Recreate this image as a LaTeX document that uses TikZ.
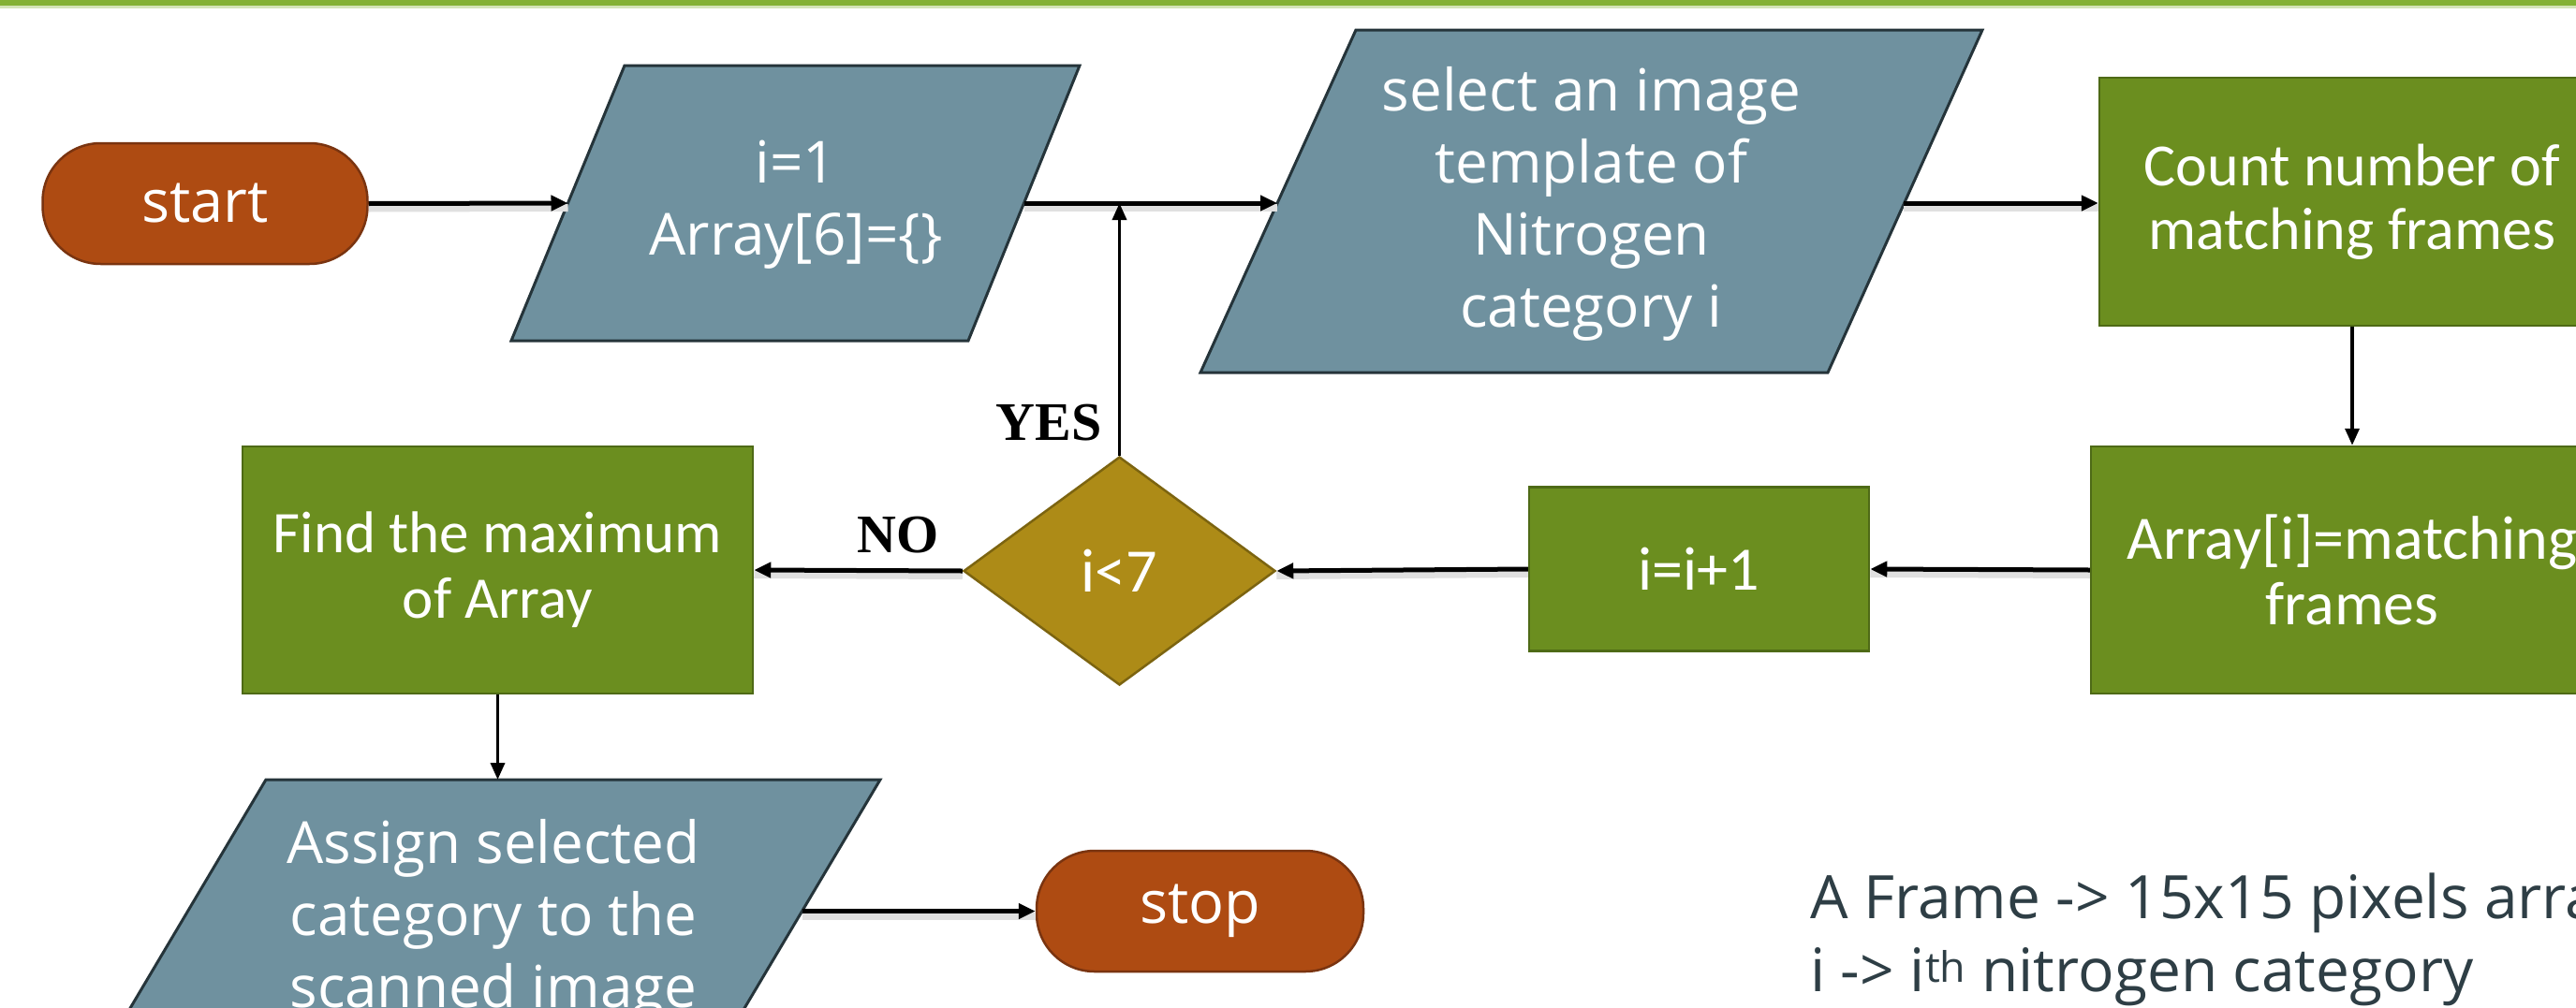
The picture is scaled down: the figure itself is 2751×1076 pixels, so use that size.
\documentclass[tikz,border=0pt]{standalone}
\usepackage{fontspec}
\setmainfont{Carlito}
\newfontfamily\opensans{Open Sans}
\newfontfamily\timesf{Liberation Serif}
\usetikzlibrary{arrows.meta,shapes.geometric}
\definecolor{termfill}{HTML}{AE4B12}
\definecolor{termdraw}{HTML}{7A3410}
\definecolor{parafill}{HTML}{6F919F}
\definecolor{paradraw}{HTML}{25343A}
\definecolor{procfill}{HTML}{6B8E1F}
\definecolor{procdraw}{HTML}{4E6A16}
\definecolor{decfill}{HTML}{AD8B17}
\definecolor{decdraw}{HTML}{7C6410}
\definecolor{topbar}{HTML}{84B135}
\definecolor{notetext}{HTML}{2E3E45}
\begin{document}
\begin{tikzpicture}[x=1pt,y=-1pt,
  term/.style={draw=termdraw, fill=termfill, line width=2.5pt, rounded corners=62pt, inner sep=0pt, text=white, font=\opensans\fontsize{63pt}{76pt}\selectfont},
  proc/.style={draw=procdraw, fill=procfill, line width=2.5pt, inner sep=0pt, text=white, align=center},
  decbox/.style={diamond, draw=decdraw, fill=decfill, line width=2.5pt, inner sep=0pt, text=white, font=\fontsize{66pt}{78pt}\selectfont},
  para/.style={draw=paradraw, fill=parafill, line width=3pt, line join=miter},
  paratext/.style={text=white, align=center, font=\opensans\fontsize{62pt}{77pt}\selectfont, inner sep=0pt},
  arr/.style={line width=5pt, -{Triangle[length=18pt,width=16pt]}},
  varr/.style={line width=3.5pt, -{Triangle[length=18pt,width=15pt]}},
  shadowline/.style={line width=8pt, black!12, transform canvas={yshift=-5pt}},
  lbl/.style={font=\timesf\bfseries\fontsize{58pt}{68pt}\selectfont, inner sep=0pt},
  note/.style={text=notetext, font=\opensans\fontsize{64pt}{78pt}\selectfont, inner sep=0pt, anchor=base west},
]
\useasboundingbox (0,0) rectangle (2751,1076);
\fill[white] (0,0) rectangle (2751,1076);
% top bar
\fill[topbar] (0,0) rectangle (2751,6);
\fill[topbar!35] (0,6) rectangle (2751,9);

% terminators
\node[term, minimum width=347pt, minimum height=129pt] (start) at (219,217.5) {start};
\node[term, minimum width=349pt, minimum height=129pt] (stop) at (1281.5,973.5) {stop};

% parallelogram 1
\draw[para] (667,70) -- (1153,70) -- (1034,364) -- (546,364) -- cycle;
\coordinate (p1w) at (606.5,217);
\coordinate (p1e) at (1093.5,217);
\node[paratext] (p1) at (850,219) {i=1\\Array[6]=\{\}};

% parallelogram 2
\draw[para] (1448,32) -- (2117,32) -- (1952,398) -- (1282,398) -- cycle;
\coordinate (p2w) at (1364,217);
\coordinate (p2e) at (2033,217);
\node[paratext] (p2) at (1699.5,218) {select an image\\template of\\Nitrogen\\category i};

% parallelogram 3
\draw[para] (284,833) -- (940,833) -- (769,1121) -- (113,1121) -- cycle;
\coordinate (p3n) at (531.5,833);
\coordinate (p3e) at (856.6,973.5);
\node[paratext] (p3) at (527,983) {Assign selected\\category to the\\scanned image};

% process boxes
\node[proc, minimum width=540pt, minimum height=265pt, font=\fontsize{64pt}{68pt}\selectfont] (count) at (2512,215.5) {Count number of\\matching frames};
\node[proc, minimum width=558pt, minimum height=264pt, font=\fontsize{66pt}{70pt}\selectfont] (arr) at (2512,609) {Array[i]=matching\\frames};
\node[proc, minimum width=363pt, minimum height=175pt, font=\fontsize{66pt}{78pt}\selectfont] (inc) at (1814.5,608) {i=i+1};
\node[proc, minimum width=545pt, minimum height=264pt, font=\fontsize{63pt}{70pt}\selectfont] (find) at (531.5,609) {Find the maximum\\of Array};

% decision
\node[decbox, minimum width=333pt, minimum height=244pt] (dec) at (1195.5,610) {i<7};

% shadows of horizontal connectors
\draw[shadowline] (start.east) -- (p1w);
\draw[shadowline] (p1e) -- (p2w);
\draw[shadowline] (p2e) -- (p2e -| count.west);
\draw[shadowline] (arr.west) -- (inc.east);
\draw[shadowline] (inc.west) -- (dec.east);
\draw[shadowline] (dec.west) -- (find.east);
\draw[shadowline] (p3e) -- (stop.west);

% connectors
\draw[arr] (start.east) -- (p1w);
\draw[arr] (p1e) -- (p2w);
\draw[arr] (p2e) -- (p2e -| count.west);
\draw[varr] (count.south) -- (arr.north);
\draw[arr] (arr.west) -- (inc.east);
\draw[arr] (inc.west) -- (dec.east);
\draw[arr] (dec.west) -- (find.east);
\draw[varr] (dec.north) -- (dec.north |- p1e);
\draw[varr] (find.south) -- (p3n);
\draw[arr] (p3e) -- (stop.west);

% labels
\node[lbl, anchor=base east] (yes) at (1177,470) {YES};
\node[lbl, anchor=base west] (no) at (915,590) {NO};

% notes
\node[note] (note1) at (1933,981) {A Frame -> 15x15 pixels array};
\node[note] (note2) at (1933,1059) {i -> i\textsuperscript{th} nitrogen category};
\end{tikzpicture}
\end{document}
